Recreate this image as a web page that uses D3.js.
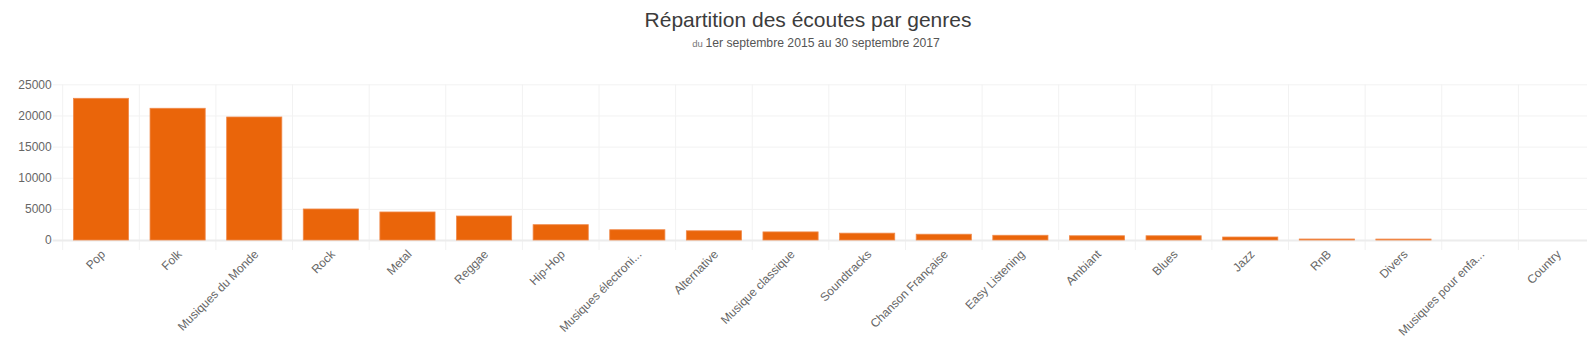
<!DOCTYPE html>
<html><head><meta charset="utf-8">
<script src="https://cdn.jsdelivr.net/npm/d3@7"></script>
<style>
html,body{margin:0;padding:0;background:#fff;overflow:hidden}
svg{display:block;font-family:"Liberation Sans",Arial,Helvetica,sans-serif}
</style></head>
<body>
<svg id="c" width="1587" height="337"></svg>
<script>
const categories = ["Pop","Folk","Musiques du Monde","Rock","Metal","Reggae","Hip-Hop","Musiques électroni...","Alternative","Musique classique","Soundtracks","Chanson Française","Easy Listening","Ambiant","Blues","Jazz","RnB","Divers","Musiques pour enfa...","Country"];
const values = [22750,21150,19750,4980,4500,3850,2460,1650,1480,1300,1100,930,760,680,680,480,160,150,0,0];
const yTicks = [0,5000,10000,15000,20000,25000];
const titleText = "Répartition des écoutes par genres";
const subtitlePrefix = "du";
const subtitleText = "1er septembre 2015 au 30 septembre 2017";

const svg = d3.select("#c");
const pLeft = 62.7, pRight = 1595, pTop = 84.3, pBottom = 240;

const x = d3.scaleBand().domain(categories).range([pLeft, pRight]).paddingInner(0).paddingOuter(0);
const y = d3.scaleLinear().domain([0, 25000]).range([pBottom, pTop]);

// title
svg.append("text").attr("x", 808).attr("y", 27).attr("text-anchor","middle")
  .attr("font-size", 21).attr("fill", "#3c3c3c").text(titleText);
const st = svg.append("text").attr("x", 816).attr("y", 47).attr("text-anchor","middle").attr("fill","#555");
st.append("tspan").attr("font-size", 9.5).attr("fill","#777").text(subtitlePrefix + " ");
st.append("tspan").attr("font-size", 12.2).text(subtitleText);

// vertical grid (band boundaries) with ticks below axis
const g = svg.append("g");
const bounds = categories.map(c => x(c)).concat([pRight]);
g.selectAll("line.vg").data(bounds).join("line")
  .attr("x1", d => d).attr("x2", d => d).attr("y1", pTop).attr("y2", pBottom + 10)
  .attr("stroke", "#f2f2f2").attr("stroke-width", 1);

// horizontal grid via axis
const yAxis = d3.axisLeft(y).tickValues(yTicks).tickFormat(d3.format("d"))
  .tickSize(-(pRight - pLeft)).tickPadding(11).tickSizeOuter(0);
const ya = svg.append("g").attr("transform", `translate(${pLeft},0)`).call(yAxis);
ya.select(".domain").remove();
ya.selectAll(".tick line").attr("stroke", "#f2f2f2").attr("x1", -10);
ya.selectAll(".tick text").attr("font-size", 12).attr("fill", "#666")
  .attr("font-family", "Liberation Sans, Arial, sans-serif");
ya.selectAll(".tick").filter(d => d === 0).select("line").attr("stroke", "#ececec").attr("stroke-width", 2);

// bars
const bw = x.bandwidth() * 0.72;
svg.append("g").selectAll("rect").data(values).join("rect")
  .attr("x", (d, i) => x(categories[i]) + (x.bandwidth() - bw) / 2)
  .attr("y", d => y(d))
  .attr("width", bw)
  .attr("height", d => pBottom - y(d))
  .attr("fill", "#ea650a")
  .attr("stroke", d => d > 0 ? "#f08a4c" : "none").attr("stroke-width", 0.8);

// x labels
const xa = svg.append("g");
xa.selectAll("text").data(categories).join("text")
  .attr("transform", d => `translate(${x(d) + x.bandwidth() / 2 + 2},${pBottom + 12}) rotate(-45)`)
  .attr("text-anchor", "end").attr("dy", "0.35em")
  .attr("font-size", 12).attr("fill", "#666").text(d => d);
</script>
</body></html>
